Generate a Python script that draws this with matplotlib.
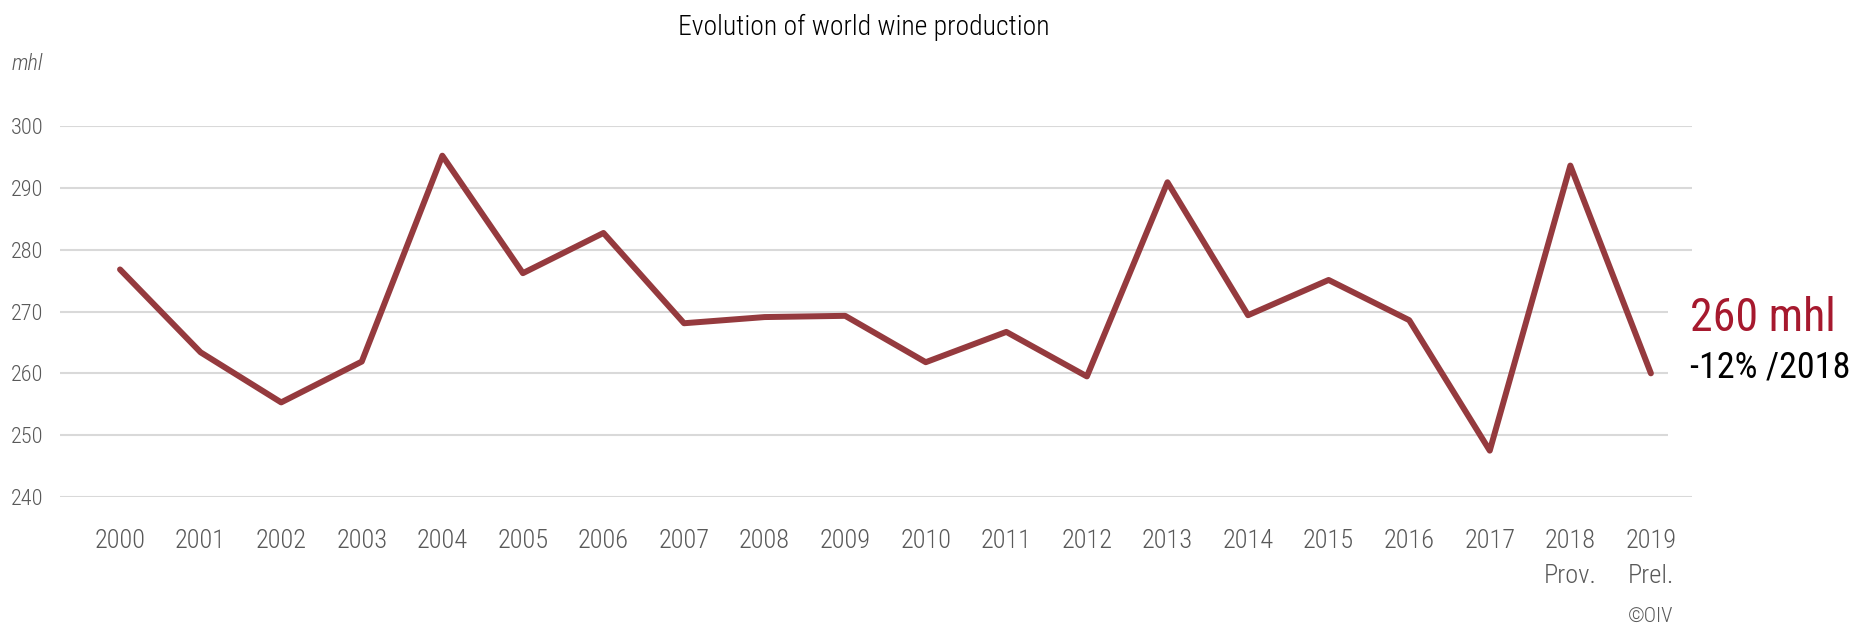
import matplotlib
matplotlib.use("Agg")
import matplotlib.pyplot as plt
from matplotlib import font_manager
from matplotlib.patches import Rectangle

# world wine production, mhl
years = ["2000", "2001", "2002", "2003", "2004", "2005", "2006", "2007", "2008", "2009",
         "2010", "2011", "2012", "2013", "2014", "2015", "2016", "2017", "2018\nProv.", "2019\nPrel."]
production = [276.8, 263.4, 255.3, 261.9, 295.2, 276.2, 282.7, 268.1, 269.1, 269.3,
              261.8, 266.7, 259.5, 290.9, 269.4, 275.1, 268.6, 247.5, 293.6, 260.0]
y_ticks = [240, 250, 260, 270, 280, 290, 300]

# pick a narrow font if one is installed
names = {f.name for f in font_manager.fontManager.ttflist}
stretch = "normal"
if "Roboto Condensed" in names:
    family = "Roboto Condensed"
elif "Liberation Sans Narrow" in names:
    family = "Liberation Sans Narrow"
elif any(f.name == "DejaVu Sans" and f.stretch == "condensed" for f in font_manager.fontManager.ttflist):
    family = "DejaVu Sans"
    stretch = "condensed"
else:
    family = "Liberation Sans"
plt.rcParams["font.family"] = [family, "DejaVu Sans"]
plt.rcParams["font.stretch"] = stretch
plt.rcParams["font.weight"] = "light"

W, H = 1860, 626
fig = plt.figure(figsize=(W / 100, H / 100), dpi=100)
ax = fig.add_axes([60 / W, 1 - 497 / H, (1692 - 60) / W, (497 - 126) / H])

x = range(len(years))
ax.plot(x, production, color="#953A3E", lw=4.3, solid_joinstyle="round",
        solid_capstyle="round", clip_on=False, zorder=3)

ax.set_xlim(-0.745, 19.51)
ax.set_ylim(240, 300)
ax.set_yticks(y_ticks)
ax.set_xticks(list(x))
ax.set_xticklabels(years)
for s in ax.spines.values():
    s.set_visible(False)
ax.grid(axis="y", color="#D9D9D9", lw=1.5, zorder=0)
ax.tick_params(axis="y", length=0, pad=12, labelsize=16, labelcolor="#595959")
ax.tick_params(axis="x", length=0, pad=23, labelsize=19, labelcolor="#595959")
for t in ax.get_xticklabels():
    t.set_linespacing(1.6)

# white patch where the annotation sits over the gridlines
fig.patches.append(Rectangle((1668 / W, 1 - 445 / H), 40 / W, 145 / H,
                             transform=fig.transFigure, facecolor="white",
                             edgecolor="none", zorder=5))

fig.text(864 / W, 1 - 35 / H, "Evolution of world wine production", ha="center",
         va="baseline", fontsize=20, color="black")
fig.text(12 / W, 1 - 70 / H, "mhl", ha="left", va="baseline", fontsize=16,
         style="italic", color="#595959")
fig.text(1690 / W, 1 - 331 / H, "260 mhl", ha="left", va="baseline", fontsize=33,
         color="#A6192E", fontweight="normal", zorder=6)
fig.text(1690 / W, 1 - 377 / H, "-12% /2018", ha="left", va="baseline", fontsize=26,
         color="black", fontweight="normal", zorder=6)
fig.text(1673 / W, 1 - 622 / H, "\u00a9OIV", ha="right", va="baseline", fontsize=15,
         color="#595959")

fig.savefig("out.png", dpi=100)
